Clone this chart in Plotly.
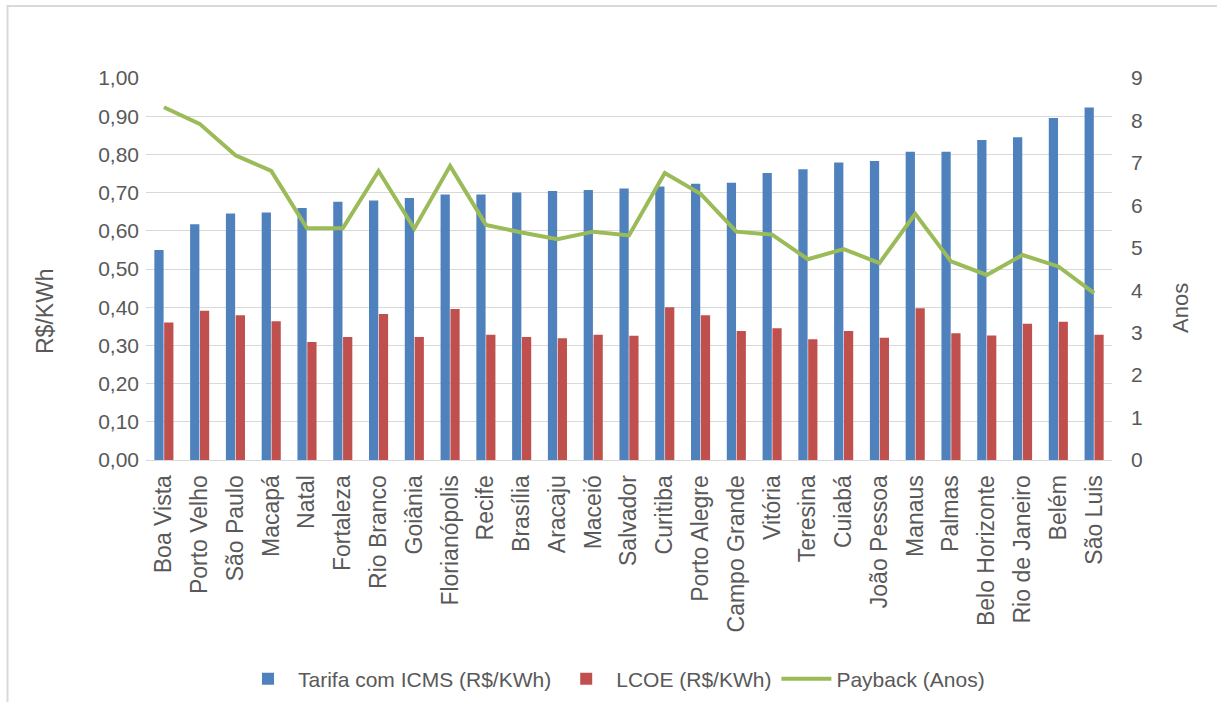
import plotly.graph_objects as go

cidades = ["Boa Vista", "Porto Velho", "São Paulo", "Macapá", "Natal", "Fortaleza",
           "Rio Branco", "Goiânia", "Florianópolis", "Recife", "Brasília", "Aracaju",
           "Maceió", "Salvador", "Curitiba", "Porto Alegre", "Campo Grande", "Vitória",
           "Teresina", "Cuiabá", "João Pessoa", "Manaus", "Palmas", "Belo Horizonte",
           "Rio de Janeiro", "Belém", "São Luis"]

tarifa = [0.550, 0.617, 0.645, 0.648, 0.660, 0.676, 0.679, 0.686, 0.695, 0.695,
          0.700, 0.704, 0.707, 0.711, 0.716, 0.723, 0.726, 0.751, 0.761, 0.779,
          0.783, 0.807, 0.807, 0.838, 0.845, 0.895, 0.923]

lcoe = [0.360, 0.391, 0.379, 0.363, 0.309, 0.322, 0.382, 0.322, 0.395, 0.328,
        0.322, 0.319, 0.328, 0.325, 0.400, 0.379, 0.338, 0.345, 0.316, 0.338,
        0.320, 0.397, 0.332, 0.326, 0.357, 0.362, 0.328]

payback = [8.31, 7.92, 7.18, 6.81, 5.46, 5.46, 6.81, 5.45, 6.93, 5.54,
           5.36, 5.20, 5.38, 5.29, 6.76, 6.27, 5.38, 5.31, 4.73, 4.97,
           4.64, 5.80, 4.68, 4.36, 4.83, 4.56, 3.93]

FONT = "Liberation Sans, Arial, sans-serif"
GRAY = "#595959"

fig = go.Figure()
fig.add_trace(go.Bar(x=cidades, y=tarifa, name="Tarifa com ICMS (R$/KWh)",
                     marker=dict(color="#4f81bd", line=dict(width=0))))
fig.add_trace(go.Bar(x=cidades, y=lcoe, name="LCOE (R$/KWh)",
                     marker=dict(color="#c0504d", line=dict(width=0))))
fig.add_trace(go.Scatter(x=cidades, y=payback, name="Payback (Anos)", yaxis="y2",
                         mode="lines", line=dict(color="#9bbb59", width=4)))

W, H = 1217, 702
L, R, T, B = 146, 105, 78, 242
pw = W - L - R
ph = H - T - B

def px(x):
    return (x - L) / pw

def py(y):
    return (H - B - y) / ph

fig.update_layout(
    width=W, height=H,
    margin=dict(l=L, r=R, t=T, b=B, pad=0, autoexpand=False),
    paper_bgcolor="white", plot_bgcolor="white",
    separators=",.",
    barmode="group", bargap=0.45, bargroupgap=0.06,
    font=dict(family=FONT, size=21, color=GRAY),
    xaxis=dict(tickangle=-90, showgrid=False, showline=True, linecolor="#d9d9d9",
               linewidth=1, ticks="", tickfont=dict(size=23, color=GRAY),
               ticklabelstandoff=5, automargin=False),
    yaxis=dict(range=[0, 1.0], dtick=0.1, tickformat=".2f", showgrid=True,
               gridcolor="#d9d9d9", gridwidth=1, zeroline=False, showline=False,
               ticks="", tickfont=dict(size=21, color=GRAY), ticklabelstandoff=6,
               automargin=False),
    yaxis2=dict(range=[0, 9], dtick=1, overlaying="y", side="right", showgrid=False,
                zeroline=False, showline=False, ticks="",
                tickfont=dict(size=21, color=GRAY), ticklabelstandoff=18,
                automargin=False),
    legend=dict(orientation="h", x=px(614), xanchor="center", y=py(679),
                yanchor="middle", font=dict(size=21, color=GRAY),
                bgcolor="rgba(0,0,0,0)", itemwidth=50),
    showlegend=True,
    annotations=[
        dict(text="R$/KWh", x=px(45), y=py(311), xref="paper", yref="paper",
             textangle=-90, showarrow=False, font=dict(size=23, color=GRAY),
             xanchor="center", yanchor="middle"),
        dict(text="Anos", x=px(1180), y=py(308), xref="paper", yref="paper",
             textangle=-90, showarrow=False, font=dict(size=22, color=GRAY),
             xanchor="center", yanchor="middle"),
    ],
    shapes=[
        dict(type="rect", xref="paper", yref="paper",
             x0=px(7.5), y0=py(760), x1=px(1260), y1=py(6),
             line=dict(color="#d9d9d9", width=2), fillcolor="rgba(0,0,0,0)",
             layer="below"),
    ],
)

fig.write_html("out.html")
